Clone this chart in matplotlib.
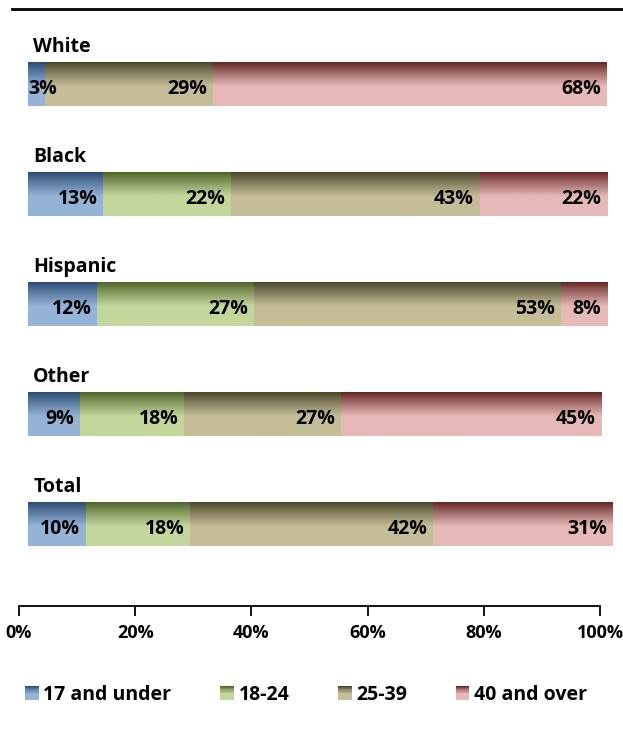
import matplotlib
matplotlib.use("Agg")
import matplotlib.pyplot as plt
import numpy as np
from matplotlib.colors import to_rgb
from matplotlib.legend_handler import HandlerPatch
from matplotlib.lines import Line2D
from matplotlib.patches import Patch, Rectangle

groups = ["White", "Black", "Hispanic", "Other", "Total"]
age_bands = ["17 and under", "18-24", "25-39", "40 and over"]
under_17 = [3, 13, 12, 9, 10]
age_18_24 = [0, 22, 27, 18, 18]
age_25_39 = [29, 43, 53, 27, 42]
over_40 = [68, 22, 8, 45, 31]
x_ticks = [0, 20, 40, 60, 80, 100]

DARK = ["#2b4a72", "#4f6228", "#4a452a", "#632523"]
LIGHT = ["#95b3d7", "#c3d69b", "#c4bd97", "#e6b9b8"]

plt.rcParams["font.family"] = ["Open Sans", "DejaVu Sans"]
plt.rcParams["font.weight"] = "bold"
FS = 14

W, H = 623, 735
fig = plt.figure(figsize=(W / 100, H / 100), dpi=100)


def gradient(dark, light, n=64):
    t = np.linspace(0, 1, n)
    f = np.clip(t / 0.55, 0, 1)
    f = f ** 0.9
    d = np.array(to_rgb(dark))
    l = np.array(to_rgb(light))
    img = d[None, :] * (1 - f[:, None]) + l[None, :] * f[:, None]
    return img[:, None, :]


# bars
ax = fig.add_axes([28 / W, 1 - 579 / H, 579 / W, 550 / H])
ax.set_xlim(0, 100)
ax.set_ylim(len(groups) - 0.5, -0.5)
ax.axis("off")

series = [under_17, age_18_24, age_25_39, over_40]
bar_h = 0.4
left = np.zeros(len(groups))
for k, vals in enumerate(series):
    vals = np.array(vals, dtype=float)
    bars = ax.barh(range(len(groups)), vals, left=left, height=bar_h,
                   color=LIGHT[k], edgecolor="none")
    grad = gradient(DARK[k], LIGHT[k])
    for i, (b, v) in enumerate(zip(bars, vals)):
        if v <= 0:
            continue
        x0 = left[i]
        im = ax.imshow(grad, extent=(x0, x0 + v, i + bar_h / 2, i - bar_h / 2),
                       aspect="auto", interpolation="bilinear", zorder=2)
        im.set_clip_path(b)
        if v < 5:
            ax.text(x0 + 0.1, i + 0.05, f"{int(v)}%", ha="left", va="center",
                    fontsize=FS, fontweight="bold", zorder=3)
        else:
            ax.text(x0 + v - 1.0, i + 0.05, f"{int(v)}%", ha="right",
                    va="center", fontsize=FS, fontweight="bold", zorder=3)
    left = left + vals

for i, g in enumerate(groups):
    ax.text(0.9, i - bar_h / 2 - 0.135, g, ha="left", va="center",
            fontsize=FS, fontweight="bold")

# x axis
axx = fig.add_axes([19 / W, 1 - 606 / H, 581 / W, 0.001])
axx.set_xlim(0, 100)
axx.set_xticks(x_ticks)
axx.set_xticklabels([f"{t}%" for t in x_ticks], fontsize=13, fontweight="bold")
axx.set_yticks([])
for s in ["top", "left", "right"]:
    axx.spines[s].set_visible(False)
axx.spines["bottom"].set_linewidth(1.3)
axx.tick_params(axis="x", direction="out", length=7, width=1.3, pad=6)

# top rule
fig.add_artist(Line2D([12 / W, 1], [1 - 9 / H, 1 - 9 / H], color="black",
                      linewidth=2, transform=fig.transFigure))


class GradientHandler(HandlerPatch):
    def __init__(self, dark, light):
        super().__init__()
        self.dark = dark
        self.light = light

    def create_artists(self, legend, orig_handle, xdescent, ydescent,
                       width, height, fontsize, trans):
        grad = gradient(self.dark, self.light, n=12)[:, 0, :]
        n = len(grad)
        arts = []
        for j, c in enumerate(grad):
            y = -ydescent + height * (1 - (j + 1) / n)
            r = Rectangle((-xdescent, y), width, height / n + 0.3,
                          facecolor=c, edgecolor="none", transform=trans)
            arts.append(r)
        return arts


handles = [Patch(facecolor=LIGHT[k], label=age_bands[k]) for k in range(4)]
handler_map = {h: GradientHandler(DARK[k], LIGHT[k]) for k, h in enumerate(handles)}
fig.legend(handles=handles, handler_map=handler_map, loc="center left",
           bbox_to_anchor=(25 / W, 1 - 695 / H), ncol=4, frameon=False,
           fontsize=FS, handlelength=0.7, handleheight=0.75,
           handletextpad=0.25, columnspacing=2.5, borderpad=0, borderaxespad=0)

fig.savefig("out.png", dpi=100)
